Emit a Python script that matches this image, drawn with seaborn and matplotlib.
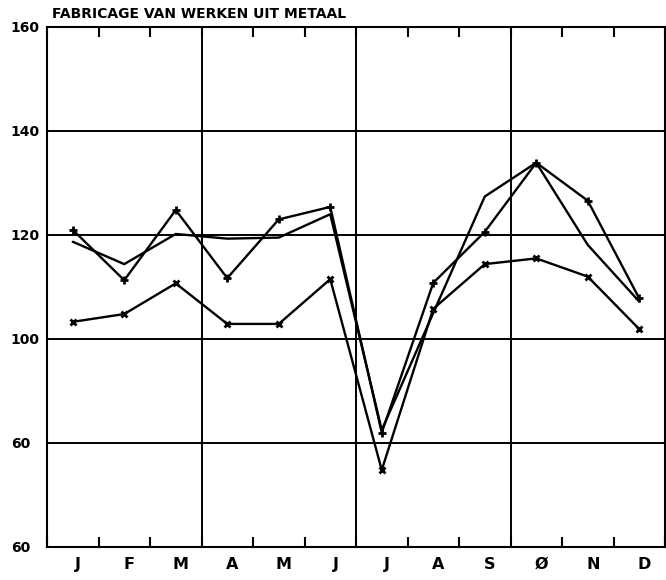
import numpy as np
import pandas as pd
import seaborn as sns
from matplotlib import pyplot as plt

# month labels (the October letter is printed as a slashed O)
months = ["J", "F", "M", "A", "M", "J", "J", "A", "S", "Ø", "N", "D"]

# three index series
series_plus = [121.0, 111.3, 124.8, 111.7, 123.0, 125.4, 82.0, 110.8, 120.6, 133.9, 126.6, 107.8]
series_plain = [118.7, 114.4, 120.2, 119.3, 119.5, 124.0, 82.5, 105.0, 127.4, 133.9, 118.1, 107.2]
series_cross = [103.3, 104.8, 110.7, 102.9, 102.9, 111.5, 74.8, 105.8, 114.4, 115.5, 112.0, 101.9]

# y tick values and the labels as printed (80 is printed as "60")
ytick_values = [160, 140, 120, 100, 80, 60]
ytick_labels = ["160", "140", "120", "100", "60", "60"]

pos = np.arange(len(months)) + 0.5
df = pd.DataFrame({
    "pos": np.tile(pos, 3),
    "value": series_plus + series_plain + series_cross,
    "series": ["plus"] * 12 + ["plain"] * 12 + ["cross"] * 12,
})

sns.set_style("white")
plt.rcParams["font.family"] = ["DejaVu Sans"]
plt.rcParams["text.color"] = "black"

fig = plt.figure(figsize=(6.66, 5.8), dpi=100)
ax = fig.add_axes([47 / 666, 1 - 547 / 580, 618 / 666, 520 / 580])

# grid
for y in [140, 120, 100, 80]:
    ax.axhline(y, color="black", lw=1.4, zorder=1)
for x in [3, 6, 9]:
    ax.axvline(x, color="black", lw=1.4, zorder=1)

sns.lineplot(data=df[df.series == "plain"], x="pos", y="value", color="black",
             lw=1.7, ax=ax, zorder=3)
sns.lineplot(data=df[df.series == "plus"], x="pos", y="value", color="black",
             lw=1.7, marker="+", markersize=6, markeredgewidth=2,
             markeredgecolor="black", ax=ax, zorder=3)
sns.lineplot(data=df[df.series == "cross"], x="pos", y="value", color="black",
             lw=1.7, marker="x", markersize=5, markeredgewidth=2,
             markeredgecolor="black", ax=ax, zorder=3)

ax.set_xlim(0, 12)
ax.set_ylim(60, 160)
ax.set_xlabel("")
ax.set_ylabel("")

# boundary ticks inside on bottom and top, month letters centred in the slots
ax.set_xticks(np.arange(13))
ax.set_xticklabels([])
ax.tick_params(axis="x", which="major", direction="in", length=7, width=1.5,
               top=True, bottom=True, color="black")
ax.set_xticks(pos + 0.1, minor=True)
ax.set_xticklabels(months, minor=True, fontsize=11.5, fontweight="bold")
ax.tick_params(axis="x", which="minor", length=0, pad=7, labelcolor="black")

ax.set_yticks(ytick_values)
ax.set_yticklabels(ytick_labels, fontsize=10, fontweight="bold", ha="left")
ax.tick_params(axis="y", length=0, pad=26, labelcolor="black")

for side in ax.spines.values():
    side.set_visible(True)
    side.set_color("black")
    side.set_linewidth(1.5)

fig.text(52 / 666, 1 - 14 / 580, "FABRICAGE VAN WERKEN UIT METAAL",
         fontsize=10, fontweight="bold", va="center", ha="left", color="black")

fig.savefig("out.png", dpi=100, facecolor="white")
